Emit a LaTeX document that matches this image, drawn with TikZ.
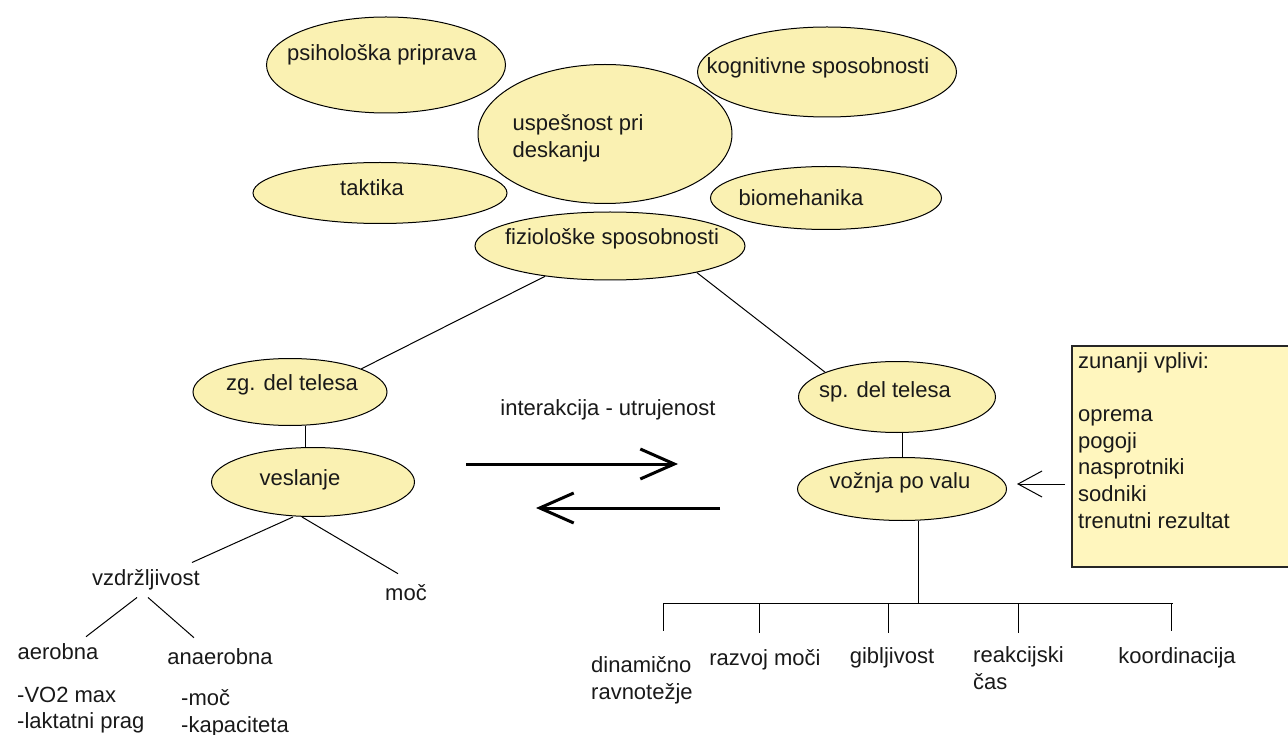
\documentclass[tikz,border=0pt]{standalone}
\usepackage{fontspec}
\setmainfont{Liberation Sans}
\usetikzlibrary{shapes.geometric,arrows.meta}

\definecolor{bubblefill}{RGB}{250,241,178}
\definecolor{boxfill}{RGB}{255,246,190}

\tikzset{
    bubble/.style={draw, ellipse, fill=bubblefill, line width=1pt, inner sep=0pt},
    txt/.style={font=\fontsize{22}{26.7}\selectfont, inner sep=0pt, align=left, text=black!90},
    link/.style={draw, line width=1pt},
    swap/.style={draw, line width=3pt, -{Straight Barb[length=34pt, width=30pt]}},
}

\begin{document}
\begin{tikzpicture}[x=1pt, y=-1pt]
    \useasboundingbox (0,0) rectangle (1288,735);
    % top cluster
    \node [bubble, minimum width=254pt, minimum height=139pt, label={[txt, xshift=-27pt, yshift=-4pt]center:uspešnost pri\\deskanju}] at (605,134) (usp) {};
    \node [bubble, minimum width=239pt, minimum height=96pt, label={[txt, xshift=-4pt, yshift=10pt]center:psihološka priprava}] at (386,65) (psih) {};
    \node [bubble, minimum width=259pt, minimum height=90pt, label={[txt, xshift=-9pt, yshift=4pt]center:kognitivne sposobnosti}] at (827,72) (kogn) {};
    \node [bubble, minimum width=254pt, minimum height=61pt, label={[txt, xshift=-8pt, yshift=5pt]center:taktika}] at (380,193) (takt) {};
    \node [bubble, minimum width=231pt, minimum height=63pt, label={[txt, xshift=-25pt]center:biomehanika}] at (826,198) (biom) {};
    \node [bubble, minimum width=270pt, minimum height=68pt, label={[txt, xshift=2pt, yshift=7pt]center:fiziološke sposobnosti}] at (610,246) (fizio) {};
    % body parts
    \node [bubble, minimum width=194pt, minimum height=67pt, label={[txt, xshift=2pt, yshift=7pt]center:zg. del telesa}] at (290,392) (zg) {};
    \node [bubble, minimum width=203pt, minimum height=69pt, label={[txt, xshift=-13pt, yshift=2pt]center:veslanje}] at (313,482) (vesl) {};
    \node [bubble, minimum width=197pt, minimum height=71pt, label={[txt, xshift=-12pt, yshift=5pt]center:sp. del telesa}] at (897,397) (sp) {};
    \node [bubble, minimum width=209pt, minimum height=63pt, label={[txt, xshift=-2pt, yshift=6pt]center:vožnja po valu}] at (902,489) (vozn) {};
    \node [txt] at (608,410) (inter) {interakcija - utrujenost};
    % external influences
    \node [draw=black!85, line width=2pt, fill=boxfill, minimum width=240pt, minimum height=221pt, inner sep=0pt, anchor=north west] at (1071,345) (vplivi) {};
    \node [txt, anchor=north west] at (1078,352) (vplivitxt) {zunanji vplivi:\\[26.7pt]oprema\\pogoji\\nasprotniki\\sodniki\\trenutni rezultat};
    % rowing branch
    \node [txt] at (146,580) (vzd) {vzdržljivost};
    \node [txt] at (406,593) (moc) {moč};
    \node [txt] at (58,652) (aer) {aerobna};
    \node [txt] at (220,657) (anaer) {anaerobna};
    \node [txt, anchor=west] at (17,710) (aertxt) {-VO2 max\\-laktatni prag};
    \node [txt, anchor=west] at (181,713) (anaertxt) {-moč\\-kapaciteta};
    % riding branch
    \node [txt, anchor=west] at (591,680) (dinam) {dinamično\\ravnotežje};
    \node [txt] at (765,660) (razv) {razvoj moči};
    \node [txt] at (892,658) (gibl) {gibljivost};
    \node [txt, anchor=west] at (973,668) (reak) {reakcijski\\čas};
    \node [txt] at (1177,658) (koord) {koordinacija};

    \coordinate (zgv) at (305,0);
    \coordinate (bar) at (918,603);
    \coordinate (barL) at (663,603);
    \coordinate (barR) at (1173,603);
    \coordinate (k1) at (663,631);
    \coordinate (k2) at (759,633);
    \coordinate (k3) at (888,633);
    \coordinate (k4) at (1018,633);
    \coordinate (k5) at (1171,631);
    \coordinate (fwdA) at (466,464);
    \coordinate (fwdB) at (678,464);
    \coordinate (bckA) at (720,508);
    \coordinate (bckB) at (536,508);
    \coordinate (vin) at (1065,484);

    \path [link] (fizio.205) -- (zg.18);
    \path [link] (fizio.-17) -- (sp.161);
    \path [link] (zg.south -| zgv) -- (vesl.north -| zgv);
    \path [link] (sp.south -| vozn.north) -- (vozn.north);
    \path [link] ([xshift=-20pt]vesl.south) -- ([xshift=-8pt, yshift=7pt]vzd.north east);
    \path [link] ([xshift=-11pt]vesl.south) -- ([xshift=-8pt, yshift=11pt]moc.north);
    \path [link] ([xshift=-9pt, yshift=-7pt]vzd.south) -- ([xshift=28pt, yshift=7pt]aer.north);
    \path [link] ([xshift=2pt, yshift=-7pt]vzd.south) -- ([xshift=-26pt, yshift=11pt]anaer.north);
    \path [swap] (fwdA) -- (fwdB);
    \path [swap] (bckA) -- (bckB);
    \path [link, -{Straight Barb[length=24pt, width=26pt]}] (vin) -- ([xshift=10pt, yshift=5pt]vozn.east);
    \path [link] (vozn.south -| bar) -- (bar);
    \path [link] (barL) -- (barR);
    \foreach \k in {k1,k2,k3,k4,k5}
        \path [link] (\k |- bar) -- (\k);
\end{tikzpicture}
\end{document}
